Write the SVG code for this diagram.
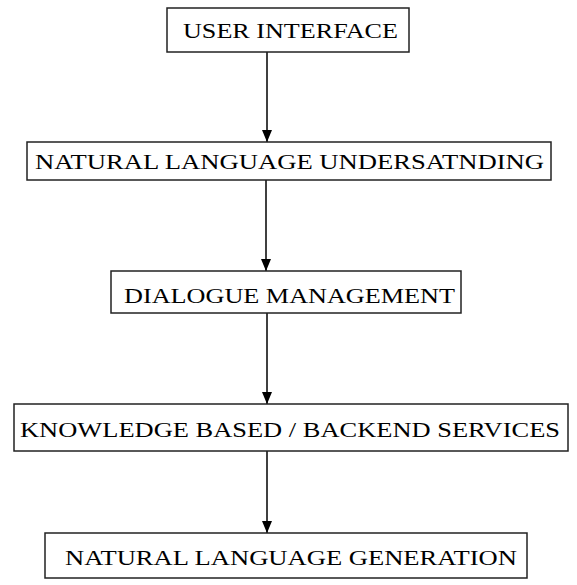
<svg xmlns="http://www.w3.org/2000/svg" width="577" height="585" viewBox="0 0 577 585">
  <style>
    .box { fill: #ffffff; stroke: #222222; stroke-width: 1.5; }
    .label { font-family: "Liberation Serif", "Times New Roman", serif; font-size: 21px; fill: #000000; }
    .wire { stroke: #000000; stroke-width: 1.5; fill: none; marker-end: url(#head); }
  </style>
  <defs>
    <!-- filled triangular arrowhead, drawn along +x so orient="auto" points it down the wire -->
    <marker id="head" markerWidth="12" markerHeight="10" refX="12" refY="5" orient="auto" markerUnits="userSpaceOnUse" viewBox="0 0 12 10">
      <path d="M0,0 L12,5 L0,10 Z" fill="#000000"/>
    </marker>
  </defs>
  <rect width="577" height="585" fill="#ffffff"/>

  <g id="connectors">
    <line class="wire" x1="267" y1="52" x2="267" y2="142"/>
    <line class="wire" x1="266" y1="180" x2="266" y2="271"/>
    <line class="wire" x1="267" y1="313" x2="267" y2="404"/>
    <line class="wire" x1="267" y1="451" x2="267" y2="533"/>
  </g>

  <g id="user-interface">
    <rect class="box" x="167" y="8" width="242" height="44"/>
    <text class="label" x="183" y="38" textLength="215" lengthAdjust="spacingAndGlyphs">USER INTERFACE</text>
  </g>

  <g id="nlu">
    <rect class="box" x="27" y="142" width="524" height="38"/>
    <text class="label" x="35" y="169" textLength="509" lengthAdjust="spacingAndGlyphs">NATURAL LANGUAGE UNDERSATNDING</text>
  </g>

  <g id="dialogue-management">
    <rect class="box" x="111" y="271" width="350" height="42"/>
    <text class="label" x="124" y="303" textLength="331" lengthAdjust="spacingAndGlyphs">DIALOGUE MANAGEMENT</text>
  </g>

  <g id="backend-services">
    <rect class="box" x="14" y="404" width="554" height="47"/>
    <text class="label" x="20" y="437" textLength="540" lengthAdjust="spacingAndGlyphs">KNOWLEDGE BASED / BACKEND SERVICES</text>
  </g>

  <g id="nlg">
    <rect class="box" x="45" y="533" width="482" height="45"/>
    <text class="label" x="65" y="565" textLength="452" lengthAdjust="spacingAndGlyphs">NATURAL LANGUAGE GENERATION</text>
  </g>
</svg>
